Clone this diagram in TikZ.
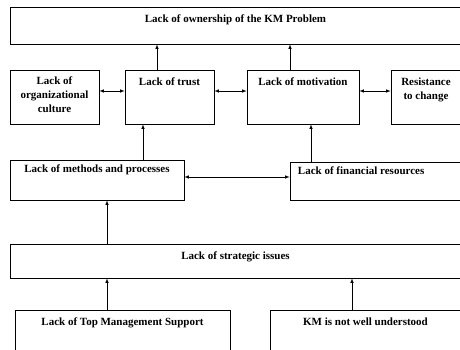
\documentclass[tikz,border=0pt]{standalone}
\usepackage{fontspec}
\setmainfont{Liberation Serif}
\usetikzlibrary{positioning,arrows}

\tikzset{
  box/.style={draw, rectangle, line width=0.7pt, inner sep=0pt},
  lbl/.style={font=\fontsize{11}{14}\selectfont\bfseries, align=center, inner sep=0pt},
}

\begin{document}
\begin{tikzpicture}[x=1pt, y=-1pt, >=latex, line width=0.6pt]
  \clip (0,0) rectangle (460,349);
  \useasboundingbox (0,0) rectangle (460,349);

  % top problem
  \node[box, minimum width=451pt, minimum height=37pt, label={[lbl, anchor=north, yshift=-8pt]north:Lack of ownership of the KM Problem}] (own) at (235.5,25.5) {};

  % second row
  \node[box, minimum width=89pt, minimum height=54pt, label={[lbl, anchor=north, yshift=-7pt]north:Lack of\\organizational\\culture}] (culture) at (54.5,97) {};
  \node[box, minimum width=89pt, minimum height=54pt, label={[lbl, anchor=north, yshift=-8pt]north:Lack of trust}] (trust) at (169.5,97) {};
  \node[box, minimum width=112pt, minimum height=54pt, label={[lbl, anchor=north, yshift=-8pt]north:Lack of motivation}] (motiv) at (303,97) {};
  \node[box, minimum width=70pt, minimum height=54pt, label={[lbl, anchor=north, yshift=-8pt]north:Resistance\\to change}] (resist) at (426,97) {};

  % third row
  \node[box, minimum width=174pt, minimum height=40pt, label={[lbl, anchor=north, yshift=-5pt]north:Lack of methods and processes}] (methods) at (97,180) {};
  \node[box, minimum width=171pt, minimum height=38pt, label={[lbl, anchor=north west, xshift=8pt, yshift=-5pt]north west:Lack of financial resources}] (fin) at (375.5,181) {};

  \node[box, minimum width=451pt, minimum height=34pt, label={[lbl, anchor=north, yshift=-8pt]north:Lack of strategic issues}] (strat) at (235.5,261) {};

  % root causes
  \node[box, minimum width=215pt, minimum height=42pt, label={[lbl, anchor=north, yshift=-8pt]north:Lack of Top Management Support}] (mgmt) at (122.5,331) {};
  \node[box, minimum width=191pt, minimum height=42pt, label={[lbl, anchor=north, yshift=-8pt]north:KM is not well understood}] (km) at (365.5,331) {};

  % arrows
  \draw[->] ([xshift=-12.5pt]trust.north) -- ([xshift=-12.5pt]trust.north |- own.south);
  \draw[->] ([xshift=-13pt]motiv.north) -- ([xshift=-13pt]motiv.north |- own.south);
  \draw[<->] ([yshift=6pt]culture.east) -- ([yshift=6pt]trust.west);
  \draw[<->] ([yshift=6pt]trust.east) -- ([yshift=6pt]motiv.west);
  \draw[<->] ([yshift=6pt]motiv.east) -- ([yshift=6pt]resist.west);
  \draw[->] ([xshift=-26.5pt]trust.south |- methods.north) -- ([xshift=-26.5pt]trust.south);
  \draw[->] ([xshift=8pt]motiv.south |- fin.north) -- ([xshift=8pt]motiv.south);
  \draw[<->] ([yshift=3pt]methods.east) -- ([yshift=3pt]methods.east -| fin.west);
  \draw[->] ([xshift=10pt]methods.south |- strat.north) -- ([xshift=10pt]methods.south);
  \draw[->] ([xshift=-15.5pt]mgmt.north) -- ([xshift=-15.5pt]mgmt.north |- strat.south);
  \draw[->] ([xshift=-13.5pt]km.north) -- ([xshift=-13.5pt]km.north |- strat.south);
\end{tikzpicture}
\end{document}
